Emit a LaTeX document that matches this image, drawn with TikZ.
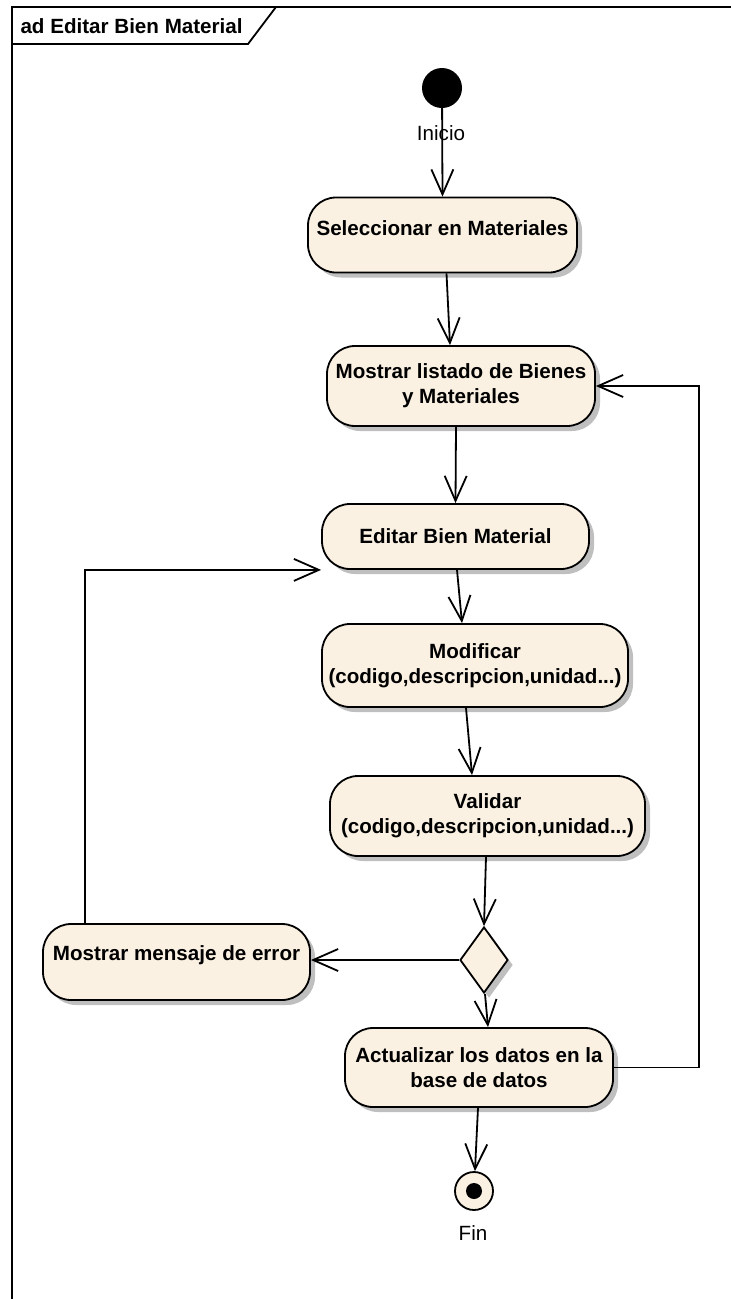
\documentclass[tikz,border=0pt]{standalone}
\usepackage{fontspec}
\setmainfont{Liberation Sans}
\usetikzlibrary{positioning, arrows.meta, calc, shadows, shapes.geometric}

\definecolor{actfill}{RGB}{250,241,227}

\tikzset{
    action/.style={draw, line width=1.8pt, fill=actfill, rounded corners=28pt,
        align=center, inner sep=4pt, font=\bfseries\fontsize{20.6}{25}\selectfont,
        drop shadow={shadow xshift=5pt, shadow yshift=-5pt, fill=black!25, opacity=1}},
    flow/.style={line width=1.8pt, -{Straight Barb[length=25pt, width=22pt]}},
    lbl/.style={font=\fontsize{20.6}{24}\selectfont},
}

\begin{document}
\begin{tikzpicture}[x=1pt, y=-1pt]
    \useasboundingbox (0,0) rectangle (731,1299);

    % ---------------- FRAME ----------------
    \draw[line width=1.8pt] (731,7) -- (12,7) -- (12,1299);
    \draw[line width=1.8pt] (12,44) -- (248,44) -- (276,7);
    \node[anchor=west, font=\bfseries\fontsize{20.6}{24}\selectfont] (title) at (17,26) {ad Editar Bien Material};

    % ---------------- NODES ----------------
    \node[circle, fill=black, minimum size=40pt, inner sep=0pt] (start) at (442,88) {};
    \node[lbl] (startlbl) at (441,133) {Inicio};

    \node[action, minimum width=269pt, minimum height=75pt, text depth=14pt] (sel) at (442.5,235) {Seleccionar en Materiales};
    \node[action, minimum width=268pt, minimum height=80pt] (lst) at (461,386) {Mostrar listado de Bienes\\y Materiales};
    \node[action, minimum width=267pt, minimum height=65pt] (edit) at (455.5,536.5) {Editar Bien Material};
    \node[action, minimum width=306pt, minimum height=83pt] (mod) at (475,665.5) {Modificar\\(codigo,descripcion,unidad...)};
    \node[action, minimum width=315pt, minimum height=80pt] (val) at (487.5,816) {Validar\\(codigo,descripcion,unidad...)};
    \node[diamond, draw, line width=1.8pt, fill=actfill, minimum width=48pt, minimum height=66pt, inner sep=0pt,
        drop shadow={shadow xshift=5pt, shadow yshift=-5pt, fill=black!25, opacity=1}] (dec) at (484,960) {};
    \node[action, minimum width=267pt, minimum height=76pt, text depth=18pt] (msg) at (176.5,962) {Mostrar mensaje de error};
    \node[action, minimum width=268pt, minimum height=79pt] (upd) at (479,1067.5) {Actualizar los datos en la\\base de datos};

    \node[circle, draw, line width=1.8pt, fill=actfill, minimum size=38pt, inner sep=0pt] (final) at (474,1191) {};
    \node[circle, fill=black, minimum size=16pt, inner sep=0pt] (finaldot) at (final) {};
    \node[lbl] (finallbl) at (473,1233) {Fin};

    % ---------------- FLOWS ----------------
    \draw[flow] (start) -- (sel.north);
    \draw[flow] ([xshift=4pt]sel.south) -- ([xshift=-11pt]lst.north);
    \draw[flow] ([xshift=-5pt]lst.south) -- (edit.north);
    \draw[flow] ([xshift=1.5pt]edit.south) -- ([xshift=-13pt]mod.north);
    \draw[flow] ([xshift=-9pt]mod.south) -- ([xshift=-15.5pt]val.north);
    \draw[flow] ([xshift=-1.5pt]val.south) -- (dec.north);
    \draw[flow] (dec.west) -- (dec.west -| msg.east);
    \draw[flow] ([xshift=1pt]dec.south) -- ([xshift=9pt]upd.north);
    \draw[flow] ([xshift=-1pt]upd.south) -- (final);

    % loops back
    \draw[flow] ([xshift=43pt]msg.north west) |- (edit.south west);
    \draw[flow] (upd.east) -- ++(85,0) |- (lst.east);
\end{tikzpicture}
\end{document}
